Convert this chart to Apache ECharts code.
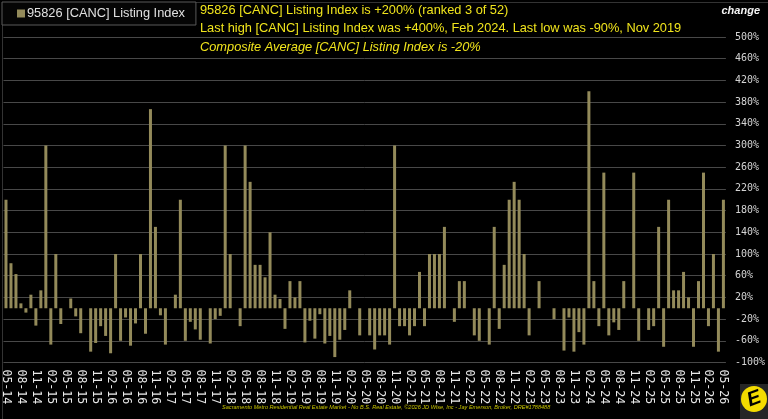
<!DOCTYPE html>
<html>
<head>
<meta charset="utf-8">
<script src="https://cdn.jsdelivr.net/npm/echarts@6/dist/echarts.min.js"></script>
<style>
  html, body { margin: 0; padding: 0; background: #000; }
  #chart { width: 768px; height: 419px; }
</style>
</head>
<body>
<div id="chart"></div>
<script>
// 月度数据：2014-05 至 2026-05
var startYear = 2014, startMonth = 5, monthCount = 145;

var listingIndex = [
  200, 83, 63, 9, -8, 25, -32, 33, 300, -67, 100, -29,
  0, 18, -15, -46, 0, -80, -64, -33, -51, -83, 100, -60,
  -17, -69, -28, 100, -47, 367, 150, -13, -67, 0, 25, 200,
  -60, -25, -39, -58, 0, -65, -20, -14, 300, 100, 0, -33,
  300, 233, 80, 80, 57, 140, 25, 17, -38, 50, 20, 50,
  -63, -23, -56, -11, -65, -51, -90, -58, -40, 33, 0, -50,
  0, -50, -76, -50, -50, -67, 300, -33, -33, -50, -33, 67,
  -33, 100, 100, 100, 150, 0, -25, 50, 50, 0, -50, -60,
  0, -67, 150, -38, 80, 200, 233, 200, 100, -50, 0, 50,
  0, 0, -20, 0, -78, -17, -80, -44, -67, 400, 50, -33,
  250, -50, -26, -40, 50, 0, 250, -60, 0, -40, -33, 150,
  -71, 200, 33, 33, 67, 20, -71, 50, 250, -33, 100, -80,
  200
];

var seriesName = '95826 [CANC] Listing Index';
var headLine1 = '95826 [CANC] Listing Index is +200% (ranked 3 of 52)';
var headLine2 = 'Last high [CANC] Listing Index was +400%, Feb 2024. Last low was -90%, Nov 2019';
var headLine3 = 'Composite Average [CANC] Listing Index is -20%';
var footText = 'Sacramento Metro Residential Real Estate Market - No B.S. Real Estate, \u00a92026 JD Wise, Inc - Jay Emerson, Broker, DRE#1788488';

var months = [];
for (var i = 0; i < monthCount; i++) {
  var m = (startMonth - 1 + i) % 12 + 1;
  var y = startYear + Math.floor((startMonth - 1 + i) / 12);
  months.push((m < 10 ? '0' : '') + m + '-' + String(y).slice(2));
}

var barColor = '#938a5a';
var headColor = '#f0e41c';

var chart = echarts.init(document.getElementById('chart'));

var option = {
  backgroundColor: '#000',
  animation: false,
  title: [
    {text: headLine1, left: 200, top: 4, padding: 0,
     textStyle: {color: headColor, fontSize: 12.8, fontWeight: 'normal', fontFamily: 'Liberation Sans'}},
    {text: headLine2, left: 200, top: 22, padding: 0,
     textStyle: {color: headColor, fontSize: 12.8, fontWeight: 'normal', fontFamily: 'Liberation Sans'}},
    {text: headLine3, left: 200, top: 41, padding: 0,
     textStyle: {color: headColor, fontSize: 12.8, fontWeight: 'normal', fontStyle: 'italic', fontFamily: 'Liberation Sans'}},
    {text: 'change', right: 8, top: 5, padding: 0,
     textStyle: {color: '#f4f4f4', fontSize: 11, fontWeight: 'bold', fontStyle: 'italic', fontFamily: 'Liberation Sans'}},
    {text: footText, left: 222, top: 404, padding: 0,
     textStyle: {color: '#c8c400', fontSize: 5.6, fontWeight: 'normal', fontStyle: 'italic', fontFamily: 'Liberation Sans'}}
  ],
  legend: {
    left: 2,
    top: 2,
    padding: [5, 11, 5, 15],
    itemWidth: 8,
    itemHeight: 8,
    icon: 'rect',
    borderColor: '#5a5a5a',
    borderWidth: 1,
    backgroundColor: '#050505',
    textStyle: {color: '#e0e0e0', fontSize: 12.8, fontFamily: 'Liberation Sans', padding: [0, 0, 0, -3]},
    data: [seriesName]
  },
  grid: {
    left: 0,
    right: 40,
    top: 37,
    bottom: 56.5
  },
  xAxis: {
    type: 'category',
    data: months,
    axisLine: {show: false},
    axisTick: {show: false},
    axisLabel: {
      interval: 2,
      rotate: -90,
      margin: 7,
      color: '#e8e8e8',
      fontSize: 11.5,
      fontFamily: 'DejaVu Sans Mono'
    }
  },
  yAxis: {
    type: 'value',
    position: 'right',
    min: -100,
    max: 500,
    interval: 40,
    axisLine: {show: false},
    axisTick: {show: false},
    axisLabel: {
      formatter: '{value}%',
      margin: 9,
      color: '#d4d4d4',
      fontSize: 10,
      fontFamily: 'DejaVu Sans Mono'
    },
    splitLine: {lineStyle: {color: '#484848', width: 1}}
  },
  series: [{
    name: seriesName,
    type: 'bar',
    data: listingIndex,
    barWidth: 3,
    itemStyle: {color: barColor}
  }],
  graphic: [
    {type: 'rect', left: 0, top: 0, shape: {width: 767, height: 418}, silent: true,
     style: {fill: 'none', stroke: '#333', lineWidth: 1}},
    {type: 'rect', left: 740, top: 384, shape: {width: 28, height: 35},
     style: {fill: '#262626'}},
    {type: 'circle', shape: {cx: 754, cy: 399, r: 13},
     style: {fill: '#f4dc00'}},
    {type: 'text', x: 754, y: 399, rotation: 0.35,
     style: {text: 'E', fill: '#000', font: 'italic bold 20px Liberation Sans', align: 'center', verticalAlign: 'middle'}}
  ]
};

chart.setOption(option);
</script>
</body>
</html>
